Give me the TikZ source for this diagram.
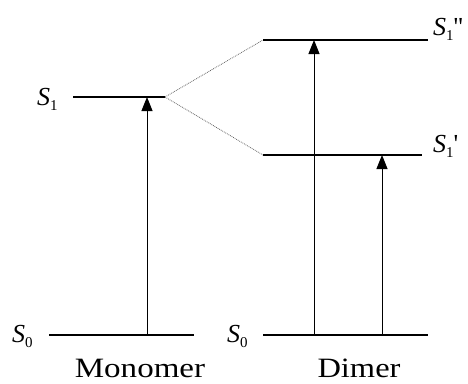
\documentclass[tikz,border=0pt]{standalone}
\usepackage{fontspec}
\setmainfont{Liberation Serif}
\newfontfamily\plainfont{Liberation Serif}
\usetikzlibrary{arrows.meta}
\newcommand{\St}[2]{{\fontsize{26}{26}\selectfont\itshape S}\raisebox{-5pt}{\fontsize{15}{15}\selectfont #1}{\fontsize{26}{26}\selectfont\plainfont #2}}
\tikzset{
  level/.style={line width=1.4pt},
  split/.style={line width=0.8pt, black!60, dash pattern=on 0.8pt off 1pt},
  excite/.style={line width=1pt, -{Triangle[length=14pt,width=11pt]}},
  lab/.style={inner sep=0pt, anchor=base west},
  captext/.style={inner sep=0pt, anchor=base, font=\fontsize{28}{28}\selectfont}
}
\begin{document}
\begin{tikzpicture}[x=1pt,y=-1pt]
\useasboundingbox (0,0) rectangle (468,383);
% monomer
\coordinate (m1l) at (73,97);
\coordinate (m1r) at (165,97);
\coordinate (m0l) at (49,335);
\coordinate (m0r) at (194,335);
\coordinate (ma0) at (147,335);
\coordinate (ma1) at (147,97);
% dimer
\coordinate (d2l) at (263,40);
\coordinate (d2r) at (428,40);
\coordinate (d1l) at (263,155);
\coordinate (d1r) at (422,155);
\coordinate (d0l) at (263,335);
\coordinate (d0r) at (428,335);
\coordinate (da0) at (314,335);
\coordinate (da2) at (314,40);
\coordinate (db0) at (382,335);
\coordinate (db1) at (382,155);
\draw[level] (m1l) -- (m1r);
\draw[level] (m0l) -- (m0r);
\draw[level] (d2l) -- (d2r);
\draw[level] (d1l) -- (d1r);
\draw[level] (d0l) -- (d0r);
\draw[split] (m1r) -- (d2l);
\draw[split] (m1r) -- (d1l);
\draw[excite] (ma0) -- (ma1);
\draw[excite] (da0) -- (da2);
\draw[excite] (db0) -- (db1);
\node[lab] (ls1) at (37,105) {\St{1}{}};
\node[lab] (ls0m) at (12,342) {\St{0}{}};
\node[lab] (ls0d) at (227,342) {\St{0}{}};
\node[lab] (ls1b) at (433,35) {\St{1}{''}};
\node[lab] (ls1a) at (433,152) {\St{1}{'}};
\node[captext] (mono) at (140,377) {\scalebox{1.18}[1]{Monomer}};
\node[captext] (dim) at (359,377) {\scalebox{1.16}[1]{Dimer}};
\end{tikzpicture}
\end{document}
